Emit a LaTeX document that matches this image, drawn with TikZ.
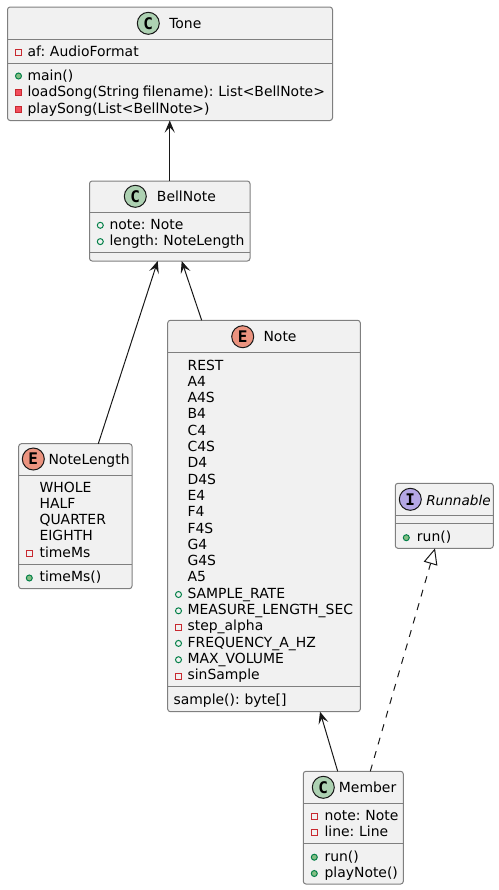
\documentclass[tikz,border=0pt]{standalone}
\usepackage{fontspec}
\setmainfont[WordSpace=0.75]{DejaVu Sans}
\newfontfamily\badgefont{DejaVu Sans Mono}
\usetikzlibrary{arrows.meta}
\definecolor{boxfill}{HTML}{F1F1F1}
\definecolor{boxline}{HTML}{7F7F7F}
\definecolor{inkline}{HTML}{181818}
\definecolor{classgreen}{HTML}{ADD1B2}
\definecolor{enumred}{HTML}{EB937F}
\definecolor{ifacepurple}{HTML}{B4A7E5}
\definecolor{privline}{HTML}{C82930}
\definecolor{privfill}{HTML}{F24D5C}
\definecolor{publine}{HTML}{038048}
\definecolor{pubfill}{HTML}{84BE84}
\tikzset{
  umlbox/.style 2 args={draw=boxline,fill=boxfill,line width=0.75pt,rounded corners=2pt,anchor=north west,
    inner sep=0pt,outer sep=0pt,minimum width=#1*0.75pt,minimum height=#2*0.75pt},
  sepline/.style={draw=boxline,line width=0.75pt},
  rowtext/.style={anchor=base west,inner sep=0pt,font=\fontsize{10.45pt}{12pt}\selectfont},
  badge/.style={circle,draw=inkline,line width=0.75pt,fill=#1,minimum size=16.5pt,inner sep=0pt,
    font=\badgefont\bfseries\fontsize{12pt}{12pt}\selectfont},
  privattr/.style={rectangle,draw=privline,line width=0.75pt,minimum size=4.5pt,inner sep=0pt},
  privmeth/.style={privattr,fill=privfill},
  pubattr/.style={circle,draw=publine,line width=0.75pt,minimum size=4.5pt,inner sep=0pt},
  pubmeth/.style={pubattr,fill=pubfill},
  uses/.style={draw=inkline,line width=0.75pt,-{Stealth[length=9pt,width=7.5pt,inset=3.8pt]}},
  realizes/.style={draw=inkline,line width=0.75pt,dash pattern=on 5.25pt off 5.25pt,
    -{Triangle[open,length=12pt,width=10.5pt]}}
}
\begin{document}
\begin{tikzpicture}[x=0.75pt,y=-0.75pt]
  \useasboundingbox (0,0) rectangle (499,890);
% Tone
  \node[umlbox={325}{113.5}] (Tone) at (7.5,7) {};
  \draw[sepline] (Tone.west |- 0,39) -- (Tone.east |- 0,39);
  \draw[sepline] (Tone.west |- 0,63) -- (Tone.east |- 0,63);
  \node[badge=classgreen] (toneBadge) at (148.3,23.3) {C};
  \node[rowtext] (toneTitle) at (169,28) {Tone};
  \node[privattr] (toneAfMark) at (18.5,52.3) {};
  \node[rowtext] (toneAf) at (27.3,56) {af: AudioFormat};
  \node[pubmeth] (toneMainMark) at (18.5,76) {};
  \node[rowtext] (toneMain) at (27.3,80) {main()};
  \node[privmeth] (toneLoadMark) at (18.5,92.7) {};
  \node[rowtext] (toneLoad) at (27.3,96.5) {loadSong(String filename): List<BellNote>};
  \node[privmeth] (tonePlayMark) at (18.5,109) {};
  \node[rowtext] (tonePlay) at (27.3,113) {playSong(List<BellNote>)};
% BellNote
  \node[umlbox={160.5}{80}] (BellNote) at (89.5,181) {};
  \draw[sepline] (BellNote.west |- 0,212.5) -- (BellNote.east |- 0,212.5);
  \draw[sepline] (BellNote.west |- 0,252.5) -- (BellNote.east |- 0,252.5);
  \node[badge=classgreen] (bellBadge) at (135.3,196.3) {C};
  \node[rowtext] (bellTitle) at (156.7,201) {BellNote};
  \node[pubattr] (bellNoteMark) at (100.3,225.3) {};
  \node[rowtext] (bellNote) at (109.3,229.3) {note: Note};
  \node[pubattr] (bellLengthMark) at (100.3,241.6) {};
  \node[rowtext] (bellLength) at (109.3,245.6) {length: NoteLength};
% NoteLength
  \node[umlbox={113.3}{145}] (NoteLength) at (18.7,443.7) {};
  \draw[sepline] (NoteLength.west |- 0,475) -- (NoteLength.east |- 0,475);
  \draw[sepline] (NoteLength.west |- 0,564.3) -- (NoteLength.east |- 0,564.3);
  \node[badge=enumred] (lengthBadge) at (33.3,459) {E};
  \node[rowtext] (lengthTitle) at (48.3,464) {NoteLength};
  \node[rowtext] (lengthWhole) at (39.3,492) {WHOLE};
  \node[rowtext] (lengthHalf) at (39.3,508.3) {HALF};
  \node[rowtext] (lengthQuarter) at (39.3,524.6) {QUARTER};
  \node[rowtext] (lengthEighth) at (39.3,540.9) {EIGHTH};
  \node[privattr] (lengthMsMark) at (29.3,553.3) {};
  \node[rowtext] (lengthMs) at (39.3,557.2) {timeMs};
  \node[pubmeth] (lengthCallMark) at (29.3,578) {};
  \node[rowtext] (lengthCall) at (39.3,581.8) {timeMs()};
% Note
  \node[umlbox={192.6}{391.4}] (Note) at (167.7,320.3) {};
  \draw[sepline] (Note.west |- 0,352.3) -- (Note.east |- 0,352.3);
  \draw[sepline] (Note.west |- 0,686) -- (Note.east |- 0,686);
  \node[badge=enumred] (noteBadge) at (242.7,336.7) {E};
  \node[rowtext] (noteTitle) at (263.3,341.7) {Note};
  \node[rowtext] (noteRest) at (187.3,370) {REST};
  \node[rowtext] (noteAfour) at (187.3,386.3) {A4};
  \node[rowtext] (noteAfourS) at (187.3,402.6) {A4S};
  \node[rowtext] (noteBfour) at (187.3,418.9) {B4};
  \node[rowtext] (noteCfour) at (187.3,435.2) {C4};
  \node[rowtext] (noteCfourS) at (187.3,451.5) {C4S};
  \node[rowtext] (noteDfour) at (187.3,467.8) {D4};
  \node[rowtext] (noteDfourS) at (187.3,484.1) {D4S};
  \node[rowtext] (noteEfour) at (187.3,500.4) {E4};
  \node[rowtext] (noteFfour) at (187.3,516.7) {F4};
  \node[rowtext] (noteFfourS) at (187.3,533) {F4S};
  \node[rowtext] (noteGfour) at (187.3,549.3) {G4};
  \node[rowtext] (noteGfourS) at (187.3,565.6) {G4S};
  \node[rowtext] (noteAfive) at (187.3,581.9) {A5};
  \node[pubattr] (noteRateMark) at (178.5,594.5) {};
  \node[rowtext] (noteRate) at (187.3,598.2) {SAMPLE\_RATE};
  \node[pubattr] (noteMeasureMark) at (178.5,610.8) {};
  \node[rowtext] (noteMeasure) at (187.3,614.5) {MEASURE\_LENGTH\_SEC};
  \node[privattr] (noteStepMark) at (178.5,627.1) {};
  \node[rowtext] (noteStep) at (187.3,630.8) {step\_alpha};
  \node[pubattr] (noteFreqMark) at (178.5,643.4) {};
  \node[rowtext] (noteFreq) at (187.3,647.1) {FREQUENCY\_A\_HZ};
  \node[pubattr] (noteVolMark) at (178.5,659.7) {};
  \node[rowtext] (noteVol) at (187.3,663.4) {MAX\_VOLUME};
  \node[privattr] (noteSinMark) at (178.5,676) {};
  \node[rowtext] (noteSin) at (187.3,679.7) {sinSample};
  \node[rowtext] (noteSample) at (173.3,704) {sample(): byte[]};
% Runnable
  \node[umlbox={98}{65}] (Runnable) at (395.3,483.3) {};
  \draw[sepline] (Runnable.west |- 0,515) -- (Runnable.east |- 0,515);
  \draw[sepline] (Runnable.west |- 0,523) -- (Runnable.east |- 0,523);
  \node[badge=ifacepurple] (runBadge) at (410.3,499.3) {I};
  \node[rowtext,font=\fontsize{10.2pt}{12pt}\selectfont\itshape] (runTitle) at (426,505) {Runnable};
  \node[pubmeth] (runMark) at (406.3,537.7) {};
  \node[rowtext] (runCall) at (416.7,541.7) {run()};
% Member
  \node[umlbox={100}{112.7}] (Member) at (303.3,771.3) {};
  \draw[sepline] (Member.west |- 0,803.3) -- (Member.east |- 0,803.3);
  \draw[sepline] (Member.west |- 0,843.3) -- (Member.east |- 0,843.3);
  \node[badge=classgreen] (memberBadge) at (323.3,787.3) {C};
  \node[rowtext] (memberTitle) at (338.7,792.3) {Member};
  \node[privattr] (memberNoteMark) at (314.3,816.3) {};
  \node[rowtext] (memberNote) at (324.3,820) {note: Note};
  \node[privattr] (memberLineMark) at (314.3,832.6) {};
  \node[rowtext] (memberLine) at (324.3,836.3) {line: Line};
  \node[pubmeth] (memberRunMark) at (314.3,857.2) {};
  \node[rowtext] (memberRun) at (324.3,861) {run()};
  \node[pubmeth] (memberPlayMark) at (314.3,873.5) {};
  \node[rowtext] (memberPlay) at (324.3,877.3) {playNote()};
% Connector ends
  \coordinate (bellLeft) at (157.7,261);
  \coordinate (bellRight) at (181.7,261);
  \coordinate (lengthTop) at (98.3,443.7);
  \coordinate (noteTop) at (201.7,320.3);
  \coordinate (noteBottom) at (320,711.7);
  \coordinate (memberLeft) at (337.7,771.3);
  \coordinate (memberRight) at (370.3,771.3);
  \coordinate (runBottom) at (435,548.3);
  \draw[uses] (BellNote.north) -- (Tone.south -| BellNote.north);
  \draw[uses] (lengthTop) -- (bellLeft);
  \draw[uses] (noteTop) -- (bellRight);
  \draw[uses] (memberLeft) -- (noteBottom);
  \draw[realizes] (memberRight) -- (runBottom);
\end{tikzpicture}
\end{document}
